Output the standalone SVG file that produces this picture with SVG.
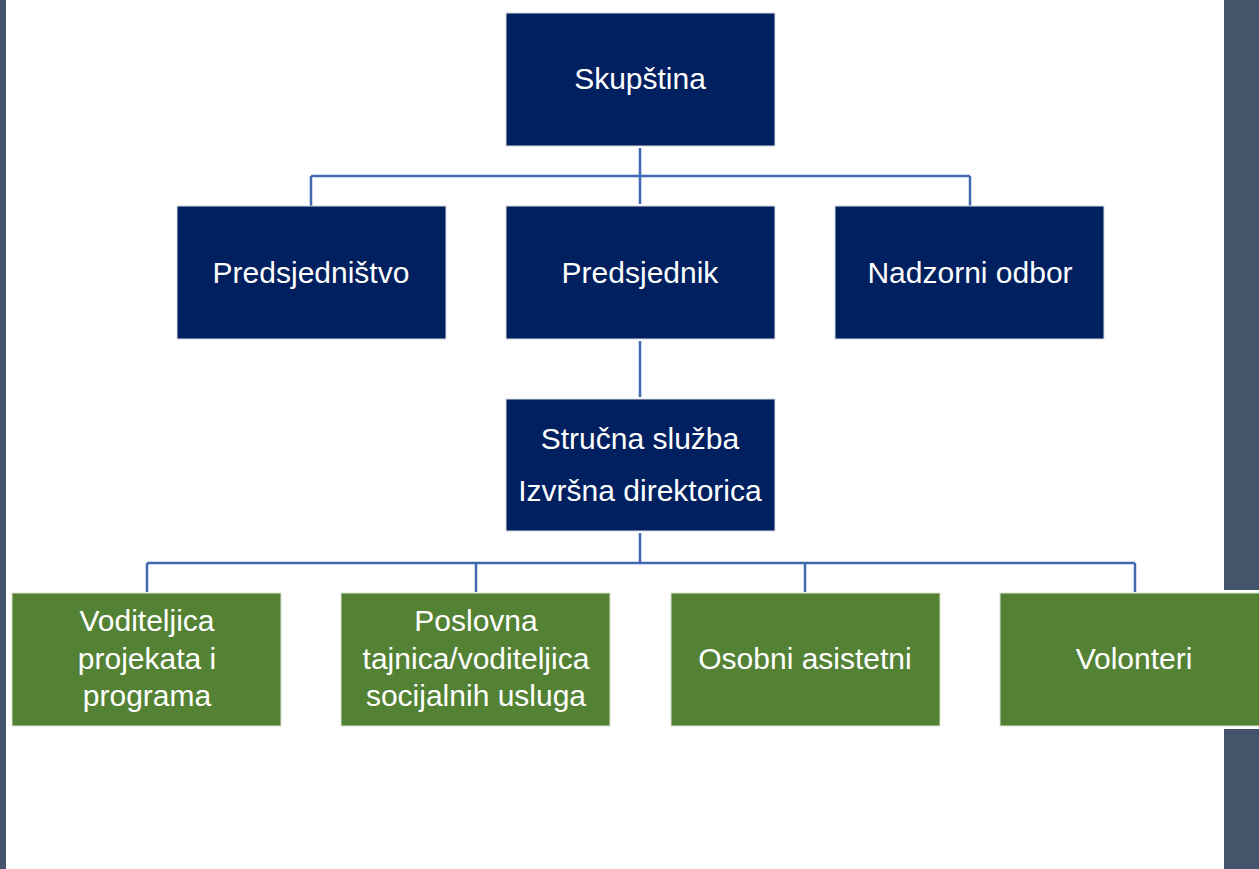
<svg xmlns="http://www.w3.org/2000/svg" width="1259" height="869" viewBox="0 0 1259 869">
<style>
.navy{fill:#002060;stroke:#d9dce6;stroke-width:1}
.green{fill:#548235;stroke:#d9e2d0;stroke-width:1}
.t{font-family:"Liberation Sans",Arial,sans-serif;font-size:30px;fill:#ffffff;text-anchor:middle}
.c{stroke:#4169b0;stroke-width:2.5;fill:none}
</style>
<rect x="0" y="0" width="1259" height="869" fill="#ffffff"/>
<rect x="0" y="0" width="6" height="869" fill="#44546a"/>
<rect x="1224" y="0" width="35" height="590" fill="#44546a"/>
<rect x="1224" y="729" width="35" height="140" fill="#44546a"/>
<g id="connectors">
<path class="c" d="M640 148V204M311 176H970M311 176V206M970 176V206"/>
<path class="c" d="M640 341V397"/>
<path class="c" d="M640 533V563M147 563H1135M147 563V592M476 563V592M805 563V592M1135 563V592"/>
</g>
<g id="skupstina"><rect class="navy" x="506" y="13" width="269" height="133"/><text class="t" x="640" y="89">Skupština</text></g>
<g id="predsjednistvo"><rect class="navy" x="177" y="206" width="269" height="133"/><text class="t" x="311" y="283">Predsjedništvo</text></g>
<g id="predsjednik"><rect class="navy" x="506" y="206" width="269" height="133"/><text class="t" x="640" y="283">Predsjednik</text></g>
<g id="nadzorni"><rect class="navy" x="835" y="206" width="269" height="133"/><text class="t" x="970" y="283">Nadzorni odbor</text></g>
<g id="strucna"><rect class="navy" x="506" y="399" width="269" height="132"/><text class="t" x="640" y="449">Stručna služba</text><text class="t" x="640" y="501">Izvršna direktorica</text></g>
<g id="voditeljica"><rect class="green" x="12" y="593" width="269" height="133"/><text class="t" x="147" y="631">Voditeljica</text><text class="t" x="147" y="669">projekata i</text><text class="t" x="147" y="706">programa</text></g>
<g id="poslovna"><rect class="green" x="341" y="593" width="269" height="133"/><text class="t" x="476" y="631">Poslovna</text><text class="t" x="476" y="669">tajnica/voditeljica</text><text class="t" x="476" y="706">socijalnih usluga</text></g>
<g id="osobni"><rect class="green" x="671" y="593" width="269" height="133"/><text class="t" x="805" y="669">Osobni asistetni</text></g>
<g id="volonteri"><rect class="green" x="1000" y="593" width="269" height="133"/><text class="t" x="1134" y="669">Volonteri</text></g>
</svg>
